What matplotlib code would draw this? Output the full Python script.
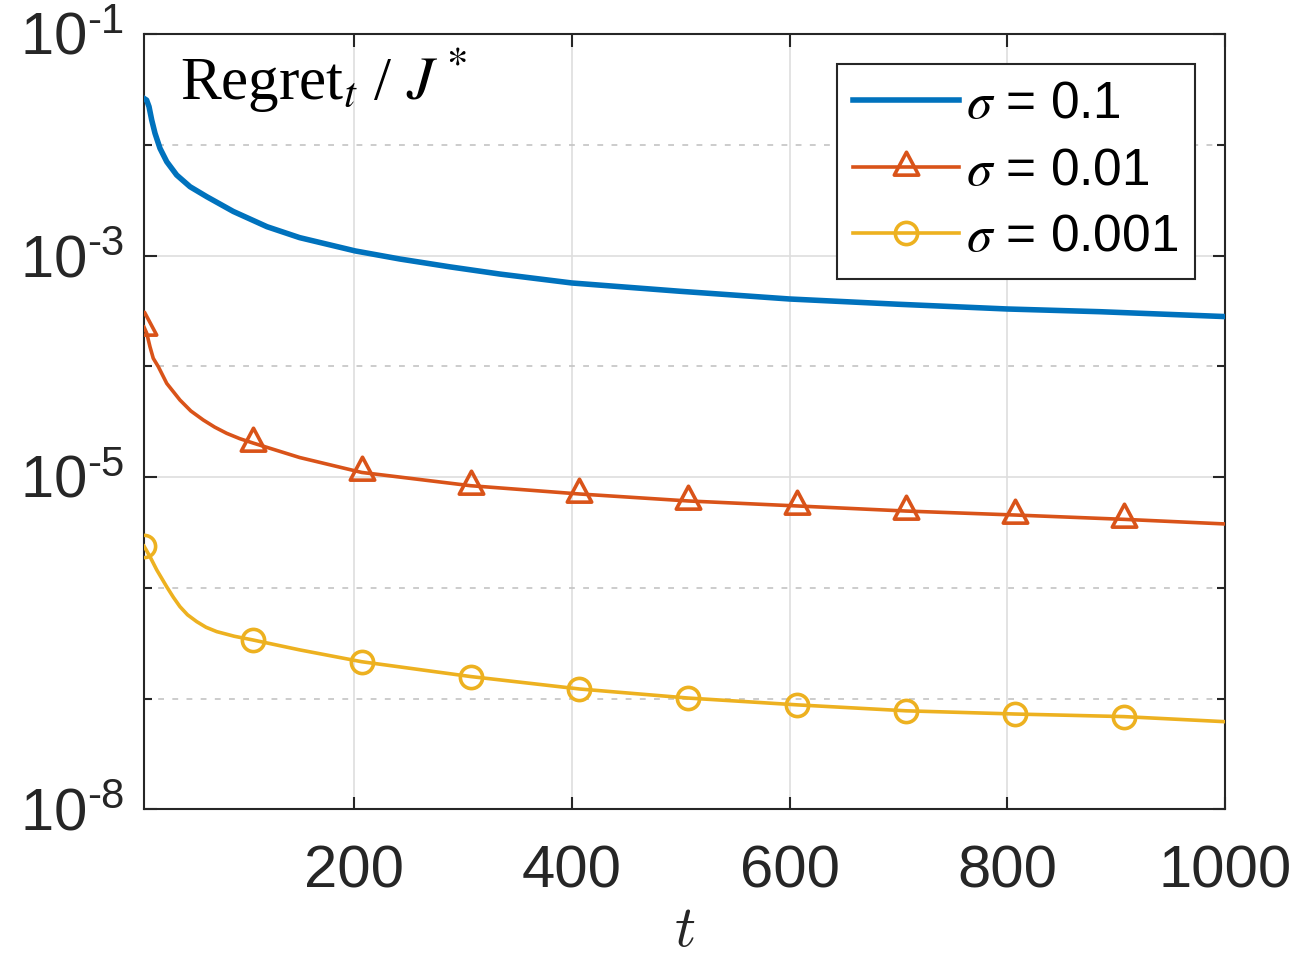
import matplotlib
matplotlib.use('Agg')
import matplotlib.pyplot as plt
from matplotlib.path import Path
from matplotlib.ticker import FixedLocator, FixedFormatter, NullFormatter
from matplotlib.font_manager import FontProperties

plt.rcParams['font.family'] = ['Liberation Sans', 'DejaVu Sans']
plt.rcParams['mathtext.fontset'] = 'custom'
plt.rcParams['mathtext.rm'] = 'Liberation Sans'
plt.rcParams['mathtext.it'] = 'Liberation Sans:italic'
plt.rcParams['mathtext.bf'] = 'Liberation Sans:bold'

# ---------------- data ----------------
t_blue = [7, 9.4, 11.6, 14.1, 17.1, 21.7, 27.9, 37, 49.3, 64.6, 89, 120, 150, 201,
          242, 288, 334, 400, 500, 600, 700, 800, 885, 1000]
v_blue = [2.62e-2, 2.53e-2, 2.21e-2, 1.67e-2, 1.27e-2, 9.28e-3, 7.03e-3, 5.33e-3,
          4.18e-3, 3.40e-3, 2.50e-3, 1.82e-3, 1.45e-3, 1.10e-3, 9.3e-4, 7.9e-4,
          6.8e-4, 5.65e-4, 4.75e-4, 4.05e-4, 3.63e-4, 3.29e-4, 3.11e-4, 2.81e-4]

t_red = [7, 9.5, 12.5, 15.5, 20.2, 27.9, 40, 50, 61.5, 72, 83, 95, 107, 150, 207, 307,
         407, 507, 607, 707, 807, 907, 1000]
v_red = [2.26e-4, 1.99e-4, 1.5e-4, 1.18e-4, 9.9e-5, 7.0e-5, 4.96e-5, 3.95e-5, 3.27e-5,
         2.82e-5, 2.48e-5, 2.22e-5, 2.03e-5, 1.5e-5, 1.10e-5, 8.35e-6, 7.03e-6,
         6.08e-6, 5.48e-6, 4.93e-6, 4.54e-6, 4.15e-6, 3.77e-6]

t_yel = [7, 12.5, 18.7, 27.9, 34, 40, 47, 55.4, 64, 73.8, 90, 107, 150, 207, 307, 407,
         507, 607, 707, 807, 907, 1000]
v_yel = [2.38e-6, 1.91e-6, 1.45e-6, 1.02e-6, 8.2e-7, 6.76e-7, 5.7e-7, 4.95e-7,
         4.4e-7, 4.02e-7, 3.65e-7, 3.38e-7, 2.75e-7, 2.15e-7, 1.58e-7, 1.22e-7,
         1.01e-7, 8.77e-8, 7.75e-8, 7.25e-8, 6.87e-8, 6.18e-8]

marker_t = [7, 107, 207, 307, 407, 507, 607, 707, 807, 907]

labels = [r'$\sigma$ = 0.1', r'$\sigma$ = 0.01', r'$\sigma$ = 0.001']
xticks = [200, 400, 600, 800, 1000]
xticklabels = ['200', '400', '600', '800', '1000']
yticks_major = [1e-8, 1e-5, 1e-3, 1e-1]
yticklabels = [r'$\mathdefault{10^{\text{-}8}}$', r'$\mathdefault{10^{\text{-}5}}$',
               r'$\mathdefault{10^{\text{-}3}}$', r'$\mathdefault{10^{\text{-}1}}$']
yticks_minor = [1e-7, 1e-6, 1e-4, 1e-2]

# ---------------- figure ----------------
W, H = 1294, 959
fig = plt.figure(figsize=(W / 100, H / 100), dpi=100)
ax = fig.add_axes([144 / W, 1 - 809.3 / H, (1225 - 144) / W, (809.3 - 34) / H])

c_blue = '#0072BD'
c_red = '#D95319'
c_yel = '#EDB120'

# triangle centred on its centroid (as in MATLAB)
tri = Path([(0, 1), (-0.80, -0.5), (0.80, -0.5), (0, 1)],
           [Path.MOVETO, Path.LINETO, Path.LINETO, Path.CLOSEPOLY])

def idx(ts):
    return [i for i, t in enumerate(ts) if t in marker_t]

ax.plot(t_blue, v_blue, color=c_blue, lw=4.0, label=labels[0], zorder=3,
        solid_joinstyle='round')
ax.plot(t_red, v_red, color=c_red, lw=2.6, marker=tri, ms=22, mfc='none',
        mec=c_red, mew=2.6, markevery=idx(t_red), label=labels[1], zorder=3,
        solid_joinstyle='round')
ax.plot(t_yel, v_yel, color=c_yel, lw=2.6, marker='o', ms=16, mfc='none',
        mec=c_yel, mew=2.6, markevery=idx(t_yel), label=labels[2], zorder=3,
        solid_joinstyle='round')

ax.set_yscale('log')
ax.set_xlim(7, 1000)
ax.set_ylim(1e-8, 1e-1)

ax.xaxis.set_major_locator(FixedLocator(xticks))
ax.xaxis.set_major_formatter(FixedFormatter(xticklabels))
ax.xaxis.set_minor_locator(FixedLocator([]))
ax.yaxis.set_major_locator(FixedLocator(yticks_major))
ax.yaxis.set_major_formatter(FixedFormatter(yticklabels))
ax.yaxis.set_minor_locator(FixedLocator(yticks_minor))
ax.yaxis.set_minor_formatter(NullFormatter())

spine_c = '#262626'
for s in ax.spines.values():
    s.set_color(spine_c)
    s.set_linewidth(1.5)

ax.tick_params(which='major', direction='in', length=9, width=1.5, color=spine_c,
               top=True, right=True, labelcolor='#262626')
ax.tick_params(which='minor', direction='in', length=5.5, width=1.5, color=spine_c,
               left=True, right=True)
ax.tick_params(axis='x', which='major', pad=25, labelsize=43)
ax.tick_params(axis='y', which='major', pad=14, labelsize=43)

ax.grid(True, which='major', color='#dedede', lw=1.2, ls='-', zorder=0)
ax.yaxis.grid(True, which='minor', color='#c4c4c4', lw=1.2, ls=(0, (3.5, 5)), zorder=0)
ax.set_axisbelow(True)

# inner title
ax.text(0.033, 0.915, r'Regret$_t$ / $J^*$', transform=ax.transAxes,
        fontsize=44, family='Liberation Serif', math_fontfamily='stix',
        va='baseline', ha='left', color='black')

# x label
fig.text(685 / W, 13 / H, r'$t$', fontsize=42, math_fontfamily='cm',
         ha='center', va='baseline', color='#262626')

leg_prop = FontProperties(family='Liberation Sans', size=37, math_fontfamily='stix')
leg = ax.legend(loc='upper right', bbox_to_anchor=((1195 - 144) / 1081, (809.3 - 64) / 775.3),
                borderaxespad=0, prop=leg_prop, handlelength=2.05, handletextpad=0.15,
                labelspacing=0.34, borderpad=0.32, fancybox=False, framealpha=1,
                edgecolor=spine_c)
leg.get_frame().set_linewidth(1.5)

fig.savefig('out.png', dpi=100)
